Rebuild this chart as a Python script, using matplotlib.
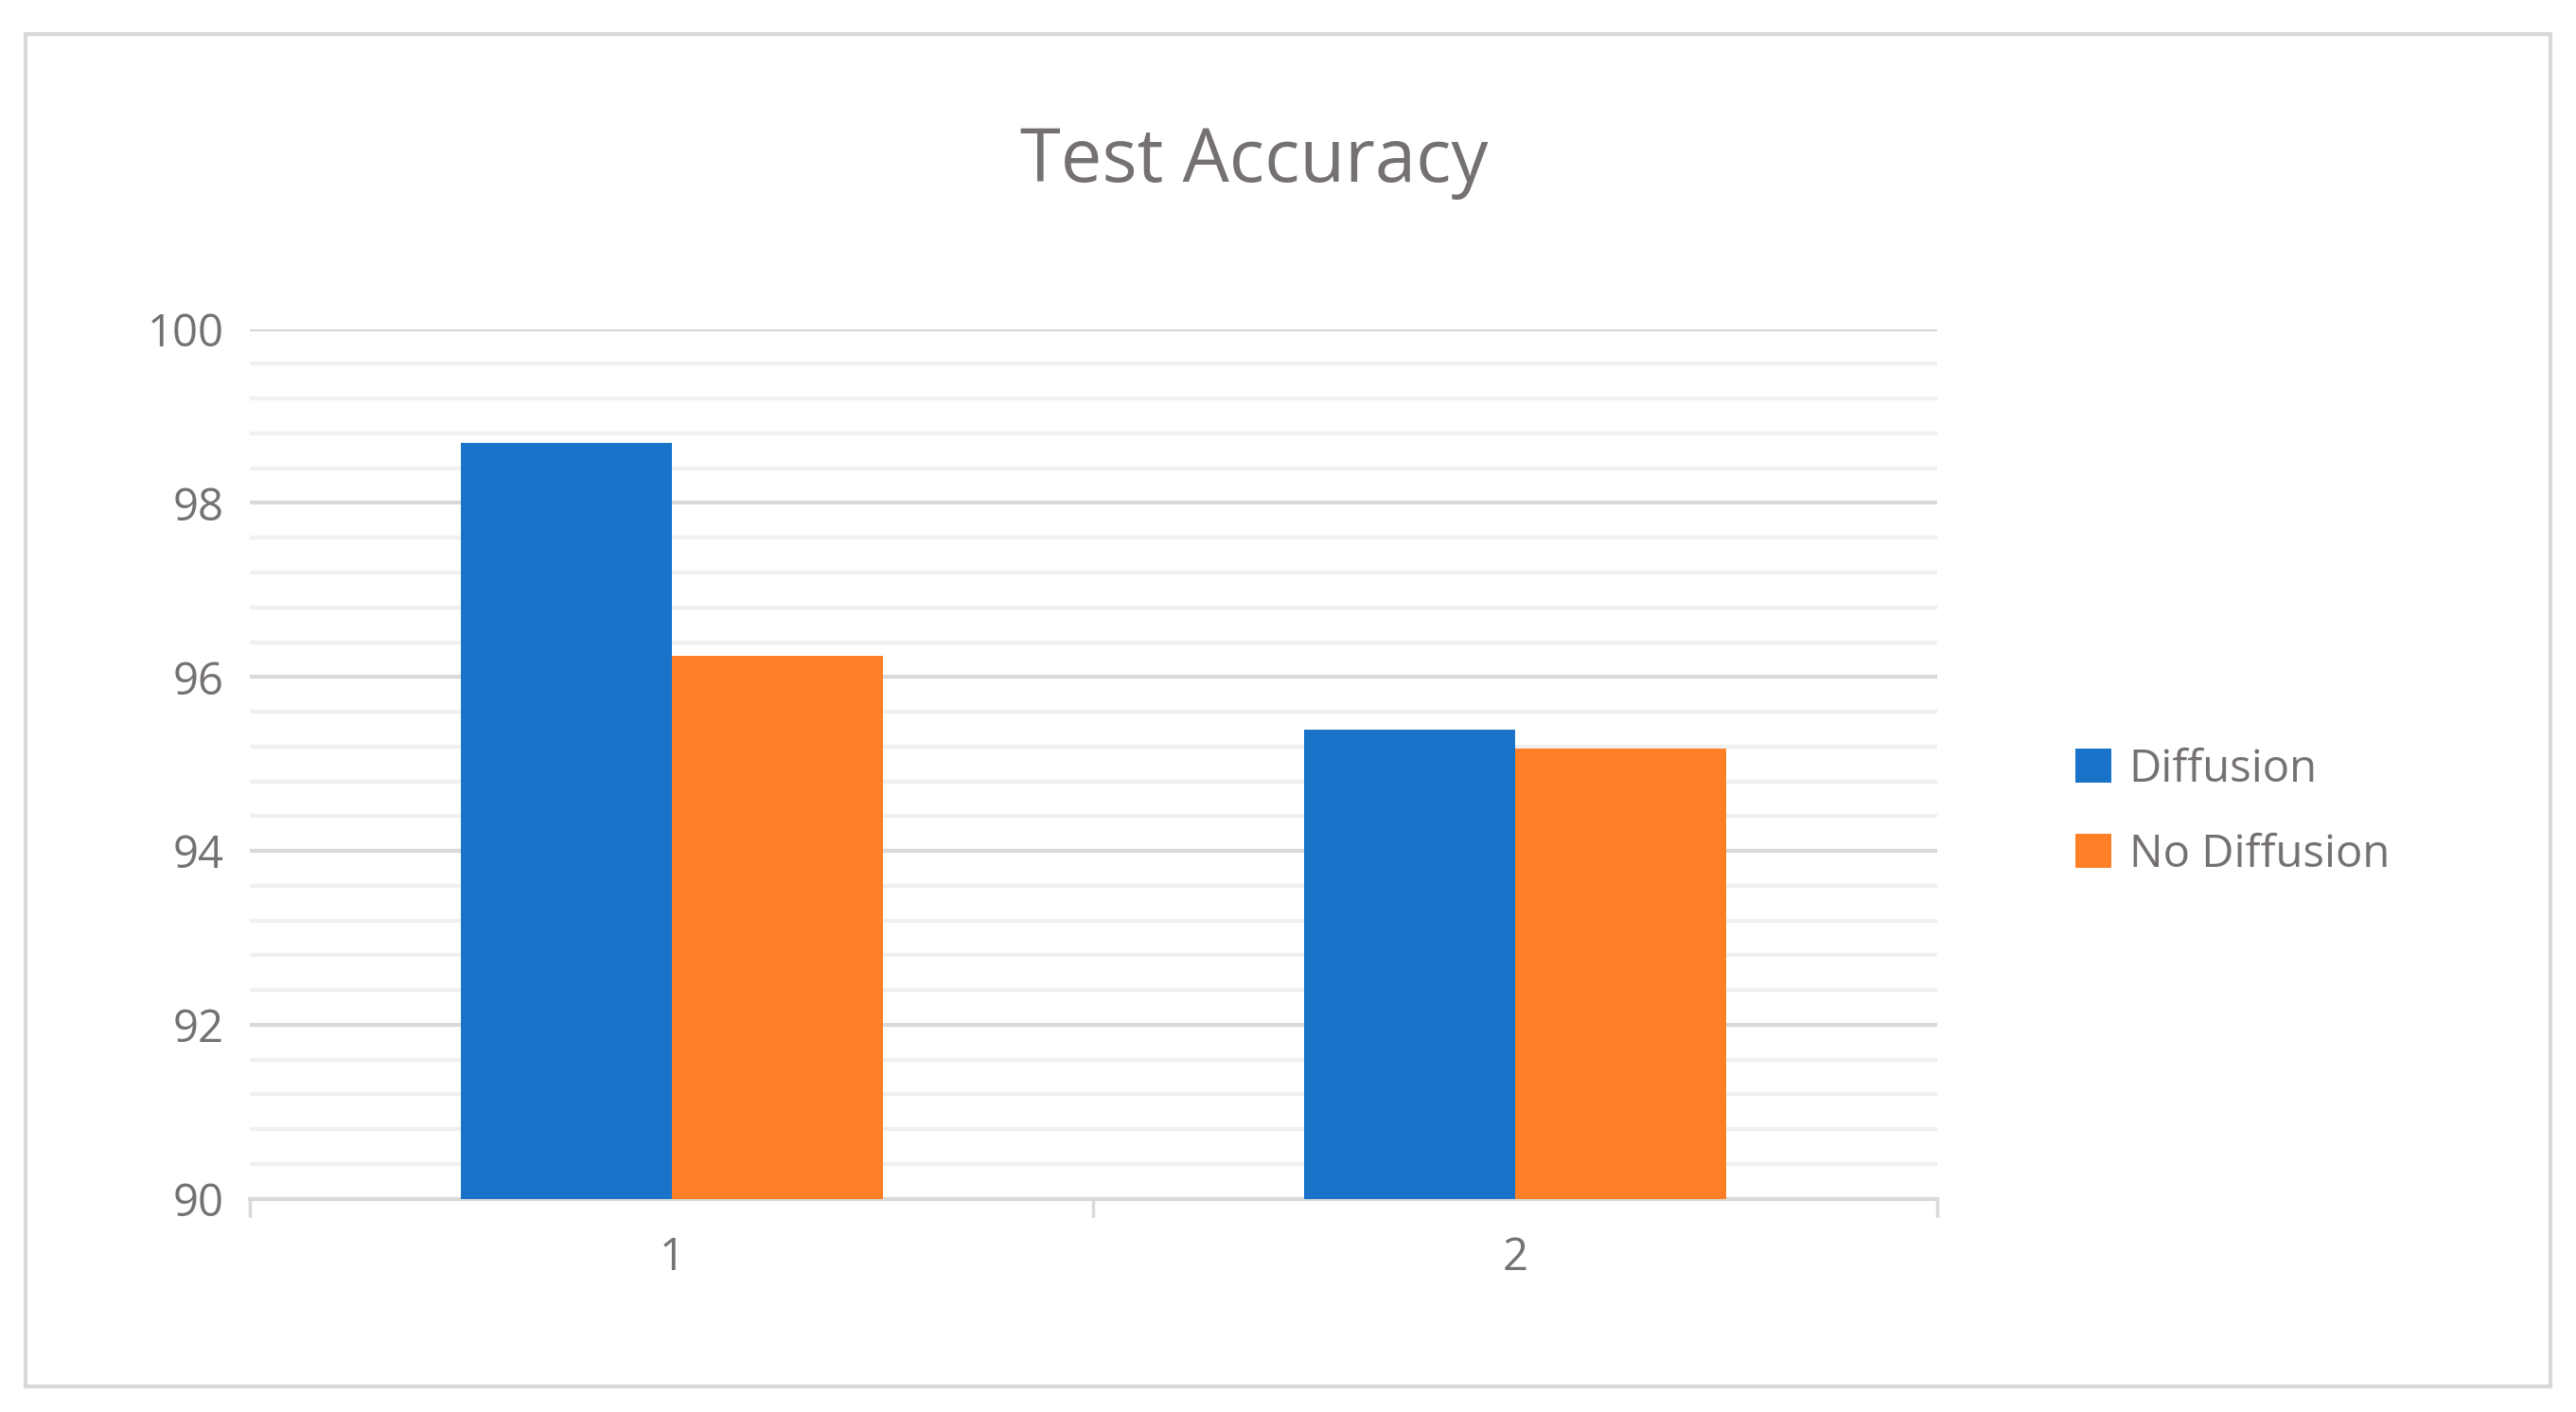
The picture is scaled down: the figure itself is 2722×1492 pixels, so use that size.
import matplotlib
matplotlib.use("Agg")
import matplotlib.pyplot as plt
import numpy as np
from matplotlib.patches import Rectangle

categories = ["1", "2"]
diffusion = [98.69, 95.39]
no_diffusion = [96.24, 95.18]

plt.rcParams['font.family'] = ['Open Sans', 'DejaVu Sans']
grey = '#767171'
fig = plt.figure(figsize=(27.22, 14.92), dpi=100)
fig.patches.append(Rectangle((0.01, 0.018), 0.98, 0.958, transform=fig.transFigure,
                             fill=False, edgecolor='#d9d9d9', linewidth=3))
ax = fig.add_axes([0.097, 0.151, 0.655, 0.616])
x = np.arange(1, len(categories) + 1)
w = 0.25
ax.bar(x - w/2, diffusion, w, color='#1873c9', label='Diffusion', zorder=3)
ax.bar(x + w/2, no_diffusion, w, color='#fe7f26', label='No Diffusion', zorder=3)
ax.set_ylim(90, 100)
ax.set_xlim(0.5, 2.5)
ax.set_yticks(np.arange(90, 101, 2))
ax.set_yticks(np.arange(90, 100.01, 0.4), minor=True)
ax.grid(axis='y', which='major', color='#d9d9d9', linewidth=3, zorder=0)
ax.grid(axis='y', which='minor', color='#f0f0f0', linewidth=3, zorder=0)
ax.set_xticks(x)
ax.set_xticklabels(categories)
ax.set_xticks([0.5, 1.5, 2.5], minor=True)
ax.tick_params(axis='x', which='major', length=0, pad=28, labelsize=34, labelcolor=grey)
ax.tick_params(axis='x', which='minor', length=14, width=2.5, color='#d9d9d9')
ax.tick_params(axis='y', which='both', length=0, pad=20, labelsize=34, labelcolor=grey)
for s in ['top', 'right', 'left']:
    ax.spines[s].set_visible(False)
ax.spines['bottom'].set_color('#d9d9d9')
ax.spines['bottom'].set_linewidth(3)
fig.text(0.487, 0.885, 'Test Accuracy', ha='center', va='center', fontsize=56, color=grey)
fig.legend(loc='center left', bbox_to_anchor=(0.79, 0.425), frameon=False, fontsize=34,
           labelcolor=grey, handlelength=0.8, handleheight=0.8, labelspacing=0.9, handletextpad=0.4)
fig.savefig('out.png', dpi=100)
